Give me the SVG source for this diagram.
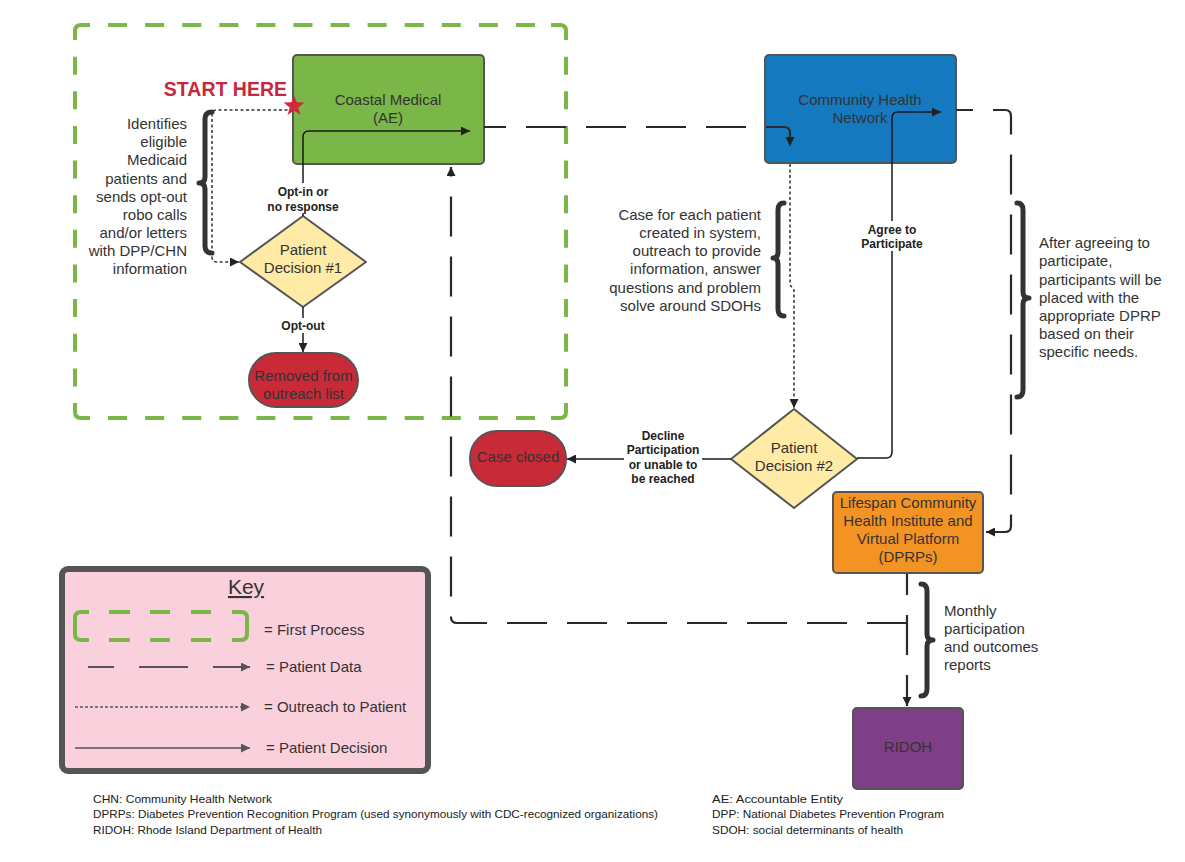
<svg xmlns="http://www.w3.org/2000/svg" width="1185" height="862" viewBox="0 0 1185 862">
<style>
.t{font-family:"Liberation Sans",Arial,sans-serif;fill:#333;}
.n{font-size:15px;text-anchor:middle;}
.lbl{font-size:12px;font-weight:bold;text-anchor:middle;fill:#222;}
.note{font-size:15px;}
.box{stroke:#555;stroke-width:2;}
.dec{fill:none;stroke:#1a1a1a;stroke-width:1.5;}
.out{fill:none;stroke:#333;stroke-width:1.5;stroke-dasharray:3 2.5;}
.data{fill:none;stroke:#2a2a2a;stroke-width:2.2;stroke-dasharray:40 20;}
.brace{fill:none;stroke:#333;stroke-width:5;stroke-linecap:round;stroke-linejoin:round;}
.grn{fill:none;stroke:#7ab648;stroke-width:4;}
.foot{font-family:"Liberation Sans",Arial,sans-serif;font-size:11.5px;fill:#222;}
</style>
<defs>
<marker id="ah" viewBox="0 0 10 10" refX="10" refY="5" markerWidth="12" markerHeight="9" markerUnits="userSpaceOnUse" orient="auto"><path d="M0,0 L10,5 L0,10 z" fill="#222"/></marker>
<marker id="ahg" viewBox="0 0 10 10" refX="10" refY="5" markerWidth="12" markerHeight="9" markerUnits="userSpaceOnUse" orient="auto"><path d="M0,0 L10,5 L0,10 z" fill="#555"/></marker>
</defs>
<rect width="1185" height="862" fill="#fff"/>

<g id="first-process">
<path class="grn" d="M75,40 L75,31 Q75,25 81,25 L90,25 M551,25 L560,25 Q566,25 566,31 L566,40 M566,403 L566,412 Q566,418 560,418 L551,418 M90,418 L81,418 Q75,418 75,412 L75,403"/>
<path class="grn" stroke-dasharray="19 18.08" stroke-dashoffset="19" d="M90,25 L551,25 M90,418 L551,418"/>
<path class="grn" stroke-dasharray="18 16.64" stroke-dashoffset="18" d="M75,40 L75,403 M566,40 L566,403"/>
</g>

<g id="coastal-medical">
<rect x="293" y="55" width="191" height="109" rx="4" fill="#7ab648" class="box"/>
<text class="t n"><tspan x="388" y="105">Coastal Medical</tspan><tspan x="388" y="123">(AE)</tspan></text>
</g>

<g id="chn">
<rect x="765" y="55" width="191" height="108" rx="4" fill="#1479be" class="box"/>
<text class="t n"><tspan x="860" y="105">Community Health</tspan><tspan x="860" y="123">Network</tspan></text>
</g>

<g id="decision-1">
<polygon points="303,216 366,262 303,307 240,262" fill="#ffeaa6" stroke="#555" stroke-width="2" stroke-linejoin="round"/>
<text class="t n"><tspan x="303" y="255">Patient</tspan><tspan x="303" y="273">Decision #1</tspan></text>
</g>

<g id="removed">
<rect x="249" y="353" width="109" height="54" rx="27" fill="#c82a38" class="box"/>
<text class="t n"><tspan x="303.5" y="381">Removed from</tspan><tspan x="303.5" y="399">outreach list</tspan></text>
</g>

<g id="decision-2">
<polygon points="794,409 857,459 794,508 731,459" fill="#ffeaa6" stroke="#555" stroke-width="2" stroke-linejoin="round"/>
<text class="t n"><tspan x="794" y="453">Patient</tspan><tspan x="794" y="471">Decision #2</tspan></text>
</g>

<g id="case-closed">
<rect x="470" y="431" width="96" height="55" rx="27" fill="#c82a38" class="box"/>
<text class="t n" x="518" y="462">Case closed</text>
</g>

<g id="lifespan">
<rect x="833" y="492" width="150" height="81" rx="4" fill="#f39323" class="box"/>
<text class="t n"><tspan x="908" y="508">Lifespan Community</tspan><tspan x="908" y="526">Health Institute and</tspan><tspan x="908" y="544">Virtual Platform</tspan><tspan x="908" y="562">(DPRPs)</tspan></text>
</g>

<g id="ridoh">
<rect x="853" y="708" width="110" height="81" rx="4" fill="#7f3f87" class="box"/>
<text class="t n" x="908" y="752">RIDOH</text>
</g>

<g id="connectors">
<!-- patient data -->
<path class="data" stroke-dashoffset="18" d="M484,127 L784,127 Q790,127 790,133 L790,146" marker-end="url(#ah)"/>
<path class="data" stroke-dashoffset="23" d="M956,110 L1005,110 Q1011,110 1011,116 L1011,526 Q1011,532 1005,532 L986,532" marker-end="url(#ah)"/>
<path class="data" stroke-dasharray="38 21" stroke-dashoffset="19" d="M907,574 L907,706" marker-end="url(#ah)"/>
<path class="data" stroke-dasharray="44 21" stroke-dashoffset="0" d="M907,623 L457,623 Q451,623 451,617 L451,167" marker-end="url(#ah)"/>
<!-- outreach -->
<path class="out" d="M293,110 L217,110 Q212,110 212,115 L212,257 Q212,262 217,262 L239,262" marker-end="url(#ah)"/>
<path class="out" d="M790,164 L790,285 L794,290 L794,408" marker-end="url(#ah)"/>
<!-- decisions -->
<path class="dec" d="M303,216 L303,137 Q303,131 309,131 L470,131" marker-end="url(#ah)"/>
<path class="dec" d="M303,307 L303,352" marker-end="url(#ah)"/>
<path class="dec" d="M731,459 L567,459" marker-end="url(#ah)"/>
<path class="dec" d="M857,458 L886,458 Q892,458 892,452 L892,118 Q892,112 898,112 L941,112" marker-end="url(#ah)"/>
<!-- labels -->
<rect x="262" y="183" width="82" height="30" fill="#fff"/>
<text class="t lbl"><tspan x="303" y="196">Opt-in or</tspan><tspan x="303" y="210.5">no response</tspan></text>
<rect x="278" y="318" width="50" height="15" fill="#fff"/>
<text class="t lbl" x="303" y="330">Opt-out</text>
<rect x="863" y="221" width="58" height="30" fill="#fff"/>
<text class="t lbl"><tspan x="892" y="234">Agree to</tspan><tspan x="892" y="248">Participate</tspan></text>
<rect x="624" y="427" width="78" height="58" fill="#fff"/>
<text class="t lbl"><tspan x="663" y="439.5">Decline</tspan><tspan x="663" y="454">Participation</tspan><tspan x="663" y="468.5">or unable to</tspan><tspan x="663" y="483">be reached</tspan></text>
</g>

<g id="start-here">
<text x="287" y="96" font-family="Liberation Sans, Arial, sans-serif" font-size="19.5" font-weight="bold" text-anchor="end" fill="#c8283c">START HERE</text>
<polygon points="294,95 296.65,102.36 304.46,102.6 298.28,107.39 300.47,114.9 294,110.5 287.53,114.9 289.72,107.39 283.54,102.6 291.35,102.36" fill="#d0293a"/>
</g>

<g id="note-identifies">
<path class="brace" d="M212,112 Q205,112 205,119 L205,177 Q205,183 199,183 Q205,183 205,189 L205,246 Q205,253 212,253"/>
<text class="t note" text-anchor="end"><tspan x="187" y="129">Identifies</tspan><tspan x="187" y="147">eligible</tspan><tspan x="187" y="165">Medicaid</tspan><tspan x="187" y="183.5">patients and</tspan><tspan x="187" y="202">sends opt-out</tspan><tspan x="187" y="220">robo calls</tspan><tspan x="187" y="238">and/or letters</tspan><tspan x="187" y="256">with DPP/CHN</tspan><tspan x="187" y="274">information</tspan></text>
</g>

<g id="note-case">
<path class="brace" d="M784,203 Q778,203 778,210 L778,252 Q778,258 773,258 Q778,258 778,264 L778,309 Q778,316 784,316"/>
<text class="t note" text-anchor="end"><tspan x="761" y="220">Case for each patient</tspan><tspan x="761" y="238">created in system,</tspan><tspan x="761" y="256">outreach to provide</tspan><tspan x="761" y="274">information, answer</tspan><tspan x="761" y="292.5">questions and problem</tspan><tspan x="761" y="310.5">solve around SDOHs</tspan></text>
</g>

<g id="note-agree">
<path class="brace" d="M1017,203 Q1023,203 1023,210 L1023,292 Q1023,298 1029,298 Q1023,298 1023,304 L1023,390 Q1023,397 1017,397"/>
<text class="t note"><tspan x="1039" y="248">After agreeing to</tspan><tspan x="1039" y="266">participate,</tspan><tspan x="1039" y="284.5">participants will be</tspan><tspan x="1039" y="302.5">placed with the</tspan><tspan x="1039" y="320.5">appropriate DPRP</tspan><tspan x="1039" y="338.5">based on their</tspan><tspan x="1039" y="357">specific needs.</tspan></text>
</g>

<g id="note-monthly">
<path class="brace" d="M921,584 Q927,584 927,591 L927,634 Q927,640 933,640 Q927,640 927,646 L927,689 Q927,696 921,696"/>
<text class="t note"><tspan x="944" y="616">Monthly</tspan><tspan x="944" y="634">participation</tspan><tspan x="944" y="652">and outcomes</tspan><tspan x="944" y="670">reports</tspan></text>
</g>

<g id="key">
<rect x="62" y="569" width="366" height="202" rx="6" fill="#f9d0dc" stroke="#555" stroke-width="6"/>
<text class="t" x="246" y="594" font-size="21" text-anchor="middle" text-decoration="underline">Key</text>
<path class="grn" d="M89,612 L81,612 Q75,612 75,618 L75,634 Q75,640 81,640 L89,640 M109,612 L130,612 M150,612 L170,612 M191,612 L211,612 M109,640 L130,640 M150,640 L170,640 M191,640 L211,640 M232,612 L241,612 Q247,612 247,618 L247,634 Q247,640 241,640 L232,640"/>
<text class="t note" x="264" y="635">= First Process</text>
<path d="M88,667 L114,667 M139,667 L188,667" stroke="#555" stroke-width="2" fill="none"/>
<path d="M213,667 L250,667" stroke="#555" stroke-width="2" fill="none" marker-end="url(#ahg)"/>
<text class="t note" x="266" y="672">= Patient Data</text>
<path d="M75,707 L250,707" stroke="#555" stroke-width="1.5" stroke-dasharray="3 2" fill="none" marker-end="url(#ahg)"/>
<text class="t note" x="264" y="712">= Outreach to Patient</text>
<path d="M75,748 L250,748" stroke="#555" stroke-width="1.5" fill="none" marker-end="url(#ahg)"/>
<text class="t note" x="266" y="753">= Patient Decision</text>
</g>

<g id="footer">
<text class="foot" x="93" y="803" textLength="179" lengthAdjust="spacingAndGlyphs">CHN: Community Health Network</text>
<text class="foot" x="93" y="818" textLength="565" lengthAdjust="spacingAndGlyphs">DPRPs: Diabetes Prevention Recognition Program (used synonymously with CDC-recognized organizations)</text>
<text class="foot" x="93" y="834" textLength="229" lengthAdjust="spacingAndGlyphs">RIDOH: Rhode Island Department of Health</text>
<text class="foot" x="712" y="803" textLength="131" lengthAdjust="spacingAndGlyphs">AE: Accountable Entity</text>
<text class="foot" x="712" y="818" textLength="232" lengthAdjust="spacingAndGlyphs">DPP: National Diabetes Prevention Program</text>
<text class="foot" x="712" y="834" textLength="191" lengthAdjust="spacingAndGlyphs">SDOH: social determinants of health</text>
</g>
</svg>
